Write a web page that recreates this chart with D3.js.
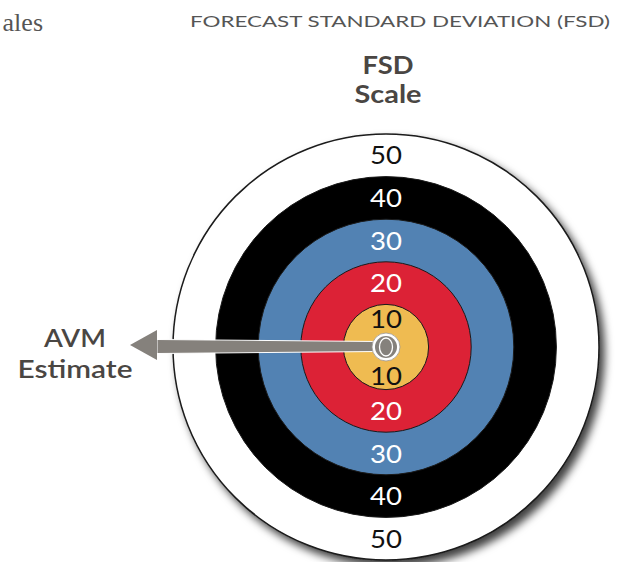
<!DOCTYPE html>
<html>
<head>
<meta charset="utf-8">
<script src="https://cdn.jsdelivr.net/npm/d3@7"></script>
<style>
  body { margin: 0; background: #fff; }
  svg { display: block; }
</style>
</head>
<body>
<script>
// FSD target, values
var rings = [50, 40, 30, 20, 10];
var ringColors = ["#ffffff", "#000000", "#5282b3", "#dc2236", "#efbb51"];
var labelColors = ["#111111", "#ffffff", "#ffffff", "#ffffff", "#111111"];
var title = "FORECAST STANDARD DEVIATION (FSD)";
var scaleTitle = ["FSD", "Scale"];
var pointerLabel = ["AVM", "Estimate"];

const W = 624, H = 562;
const cx = 386, cy = 347;
const r = d3.scaleLinear().domain([0, 50]).range([0, 213]);

var svg = d3.select("body").append("svg")
    .attr("width", W)
    .attr("height", H);

var defs = svg.append("defs");
defs.append("filter")
    .attr("id", "shadow")
    .attr("x", "-20%").attr("y", "-20%")
    .attr("width", "140%").attr("height", "140%")
  .append("feDropShadow")
    .attr("dx", 5).attr("dy", 6)
    .attr("stdDeviation", 4)
    .attr("flood-color", "#000")
    .attr("flood-opacity", 0.75);

// clipped word from the neighbouring text
svg.append("text")
    .attr("x", 43).attr("y", 31)
    .attr("text-anchor", "end")
    .style("font-family", "'Liberation Serif', serif")
    .style("font-size", "26px")
    .style("fill", "#555")
    .text("ales");

svg.append("text")
    .attr("x", 190).attr("y", 27)
    .attr("textLength", 420)
    .attr("lengthAdjust", "spacingAndGlyphs")
    .style("font-family", "Lato, sans-serif")
    .style("font-size", "16px")
    .style("fill", "#555")
    .text(title);

var stWidths = [51, 67];
svg.selectAll("text.st")
    .data(scaleTitle)
  .enter().append("text")
    .attr("class", "st")
    .attr("x", 388)
    .attr("y", function(d, i) { return 74 + i * 29; })
    .attr("text-anchor", "middle")
    .attr("textLength", function(d, i) { return stWidths[i]; })
    .attr("lengthAdjust", "spacingAndGlyphs")
    .style("font-family", "Lato, sans-serif")
    .style("font-weight", "bold")
    .style("font-size", "24px")
    .style("fill", "#4a4643")
    .text(function(d) { return d; });

var g = svg.append("g")
    .attr("transform", "translate(" + cx + "," + cy + ")");

g.selectAll("circle.ring")
    .data(rings)
  .enter().append("circle")
    .attr("class", "ring")
    .attr("r", function(d) { return r(d); })
    .attr("fill", function(d, i) { return ringColors[i]; })
    .attr("stroke", "#1a1a1a")
    .attr("stroke-width", function(d, i) { return i == 0 ? 1.5 : 1; })
    .attr("filter", function(d, i) { return i == 0 ? "url(#shadow)" : null; });

// ring labels above and below the centre
var labels = [];
rings.forEach(function(d, i) {
  var mid = Math.max(r(d - 5), 28.5);
  labels.push({ v: d, i: i, y: -mid });
  labels.push({ v: d, i: i, y: mid });
});

g.selectAll("text.lbl")
    .data(labels)
  .enter().append("text")
    .attr("class", "lbl")
    .attr("x", 0)
    .attr("y", function(d) { return d.y; })
    .attr("dy", "0.36em")
    .attr("text-anchor", "middle")
    .attr("textLength", 32)
    .attr("lengthAdjust", "spacingAndGlyphs")
    .style("font-family", "Lato, sans-serif")
    .style("font-size", "25px")
    .style("fill", function(d) { return labelColors[d.i]; })
    .text(function(d) { return d.v; });

// arrow pointing out from the centre
var tipX = 130 - cx, baseX = 157 - cx;
g.append("path")
    .attr("d", "M" + baseX + "," + -7.5 + "L-8," + -5.5 + "L-8," + 4.5 + "L" + baseX + "," + 6.5 + "Z")
    .attr("fill", "#85817c")
    .attr("stroke", "#fff")
    .attr("stroke-width", 1);
g.append("path")
    .attr("d", "M" + tipX + ",-2L" + baseX + ",-17L" + baseX + ",13Z")
    .attr("fill", "#85817c");

g.append("circle").attr("r", 14).attr("fill", "#fff").attr("stroke", "#9a9690").attr("stroke-width", 0.8);
g.append("circle").attr("r", 11).attr("fill", "#85817c");
g.append("ellipse").attr("rx", 6.5).attr("ry", 9)
    .attr("fill", "none").attr("stroke", "#fff").attr("stroke-width", 1.3);

var plWidths = [62, 115];
svg.selectAll("text.pl")
    .data(pointerLabel)
  .enter().append("text")
    .attr("class", "pl")
    .attr("x", 75)
    .attr("y", function(d, i) { return 347 + i * 31; })
    .attr("text-anchor", "middle")
    .attr("textLength", function(d, i) { return plWidths[i]; })
    .attr("lengthAdjust", "spacingAndGlyphs")
    .style("font-family", "Lato, sans-serif")
    .style("font-weight", "600")
    .style("font-size", "25px")
    .style("fill", "#4a4643")
    .text(function(d) { return d; });
</script>
</body>
</html>
